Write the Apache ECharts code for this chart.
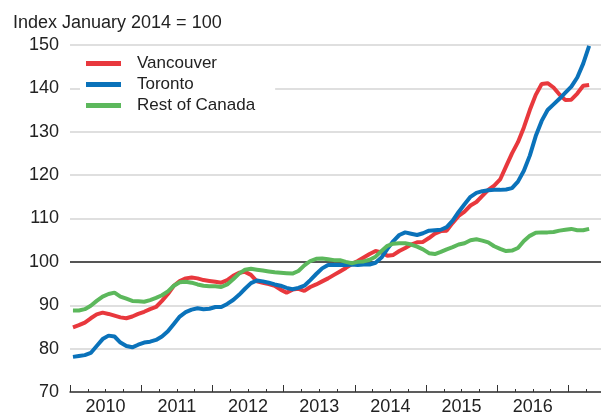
<!DOCTYPE html>
<html>
<head>
<meta charset="utf-8">
<script src="https://cdn.jsdelivr.net/npm/echarts@6/dist/echarts.min.js"></script>
<style>
  html, body { margin: 0; padding: 0; background: #fff; }
  #chart { width: 601px; height: 413px; }
</style>
</head>
<body>
<div id="chart"></div>
<script>
// 月度数据：2010年1月 - 2017年4月
const years = ['2010', '2011', '2012', '2013', '2014', '2015', '2016'];
const seriesNames = ['Vancouver', 'Toronto', 'Rest of Canada'];

const vancouver = [
    84.9, 85.4, 86.0, 87.0, 87.9, 88.3, 88.0, 87.6, 87.2, 87.0, 87.4, 88.0,
    88.5, 89.1, 89.6, 91.0, 92.6, 94.5, 95.6, 96.2, 96.4, 96.2, 95.8, 95.6,
    95.4, 95.2, 95.8, 96.8, 97.5, 97.7, 97.0, 95.5, 95.2, 94.9, 94.5, 93.6,
    92.9, 93.6, 93.8, 93.3, 94.2, 94.8, 95.5, 96.2, 97.0, 97.8, 98.6, 99.5,
    100.2, 101.0, 101.8, 102.5, 102.2, 101.4, 101.6, 102.5, 103.2, 104.0, 104.5, 104.6,
    105.5, 106.5, 107.1, 107.2, 109.0, 110.6, 111.6, 113.0, 113.8, 115.2, 116.6, 117.6,
    119.0, 122.0, 125.0, 127.6, 131.0, 135.0, 138.5, 141.0, 141.2, 140.2, 138.6, 137.3,
    137.4, 138.8, 140.6, 140.8
];

const toronto = [
    78.1, 78.3, 78.5, 79.0, 80.6, 82.2, 83.0, 82.8, 81.4, 80.6, 80.3, 80.9,
    81.4, 81.6, 82.0, 82.8, 84.0, 85.7, 87.4, 88.4, 89.0, 89.3, 89.1, 89.2,
    89.6, 89.6, 90.3, 91.2, 92.4, 93.8, 95.1, 95.7, 95.5, 95.2, 94.8, 94.5,
    94.0, 93.7, 94.0, 94.5, 95.8, 97.2, 98.5, 99.3, 99.3, 99.3, 99.3, 99.4,
    99.3, 99.4, 99.4, 99.8, 101.0, 103.0, 104.8, 106.2, 106.8, 106.5, 106.2, 106.6,
    107.2, 107.3, 107.4, 108.0, 109.5, 111.5, 113.3, 115.0, 115.9, 116.3, 116.5, 116.6,
    116.6, 116.7, 117.0, 118.5, 121.0, 124.5, 129.0, 132.5, 135.0, 136.3, 137.6, 139.0,
    140.4, 142.5, 145.7, 149.8
];

const restOfCanada = [
    88.8, 88.8, 89.1, 89.9, 91.0, 92.0, 92.6, 92.9, 92.0, 91.5, 91.0, 90.9,
    90.8, 91.2, 91.7, 92.3, 93.2, 94.5, 95.3, 95.4, 95.2, 94.8, 94.5, 94.4,
    94.4, 94.2, 94.8, 96.0, 97.3, 98.2, 98.4, 98.2, 98.0, 97.8, 97.6, 97.5,
    97.4, 97.3, 97.9, 99.2, 100.2, 100.7, 100.8, 100.6, 100.4, 100.4, 100.0, 99.7,
    100.0, 100.1, 100.5, 101.2, 102.5, 103.7, 104.2, 104.3, 104.3, 104.0, 103.5, 102.9,
    102.0, 101.8, 102.3, 102.9, 103.4, 104.0, 104.3, 105.0, 105.2, 104.9, 104.5, 103.6,
    103.0, 102.5, 102.6, 103.2, 104.8, 106.0, 106.7, 106.8, 106.8, 106.9, 107.2, 107.4,
    107.6, 107.3, 107.3, 107.6
];

const colors = ['#e8383d', '#0a72ba', '#5cb85c'];
const fontFamily = '"Liberation Sans", Arial, sans-serif';

// 月份放在月中
function toPoints(values) {
    return values.map((v, i) => [i + 0.5, v]);
}

const yearTicks = years.map((y, i) => i * 12).concat([84]);
const yearLabelPos = years.map((y, i) => i * 12 + 6);
const quarterTicks = [];
for (let m = 3; m < 89; m += 3) {
    if (m % 12 !== 0) quarterTicks.push(m);
}

const chart = echarts.init(document.getElementById('chart'));

const lineSeries = [vancouver, toronto, restOfCanada].map((values, k) => ({
    name: seriesNames[k],
    type: 'line',
    data: toPoints(values),
    showSymbol: false,
    smooth: false,
    lineStyle: { color: colors[k], width: 4 },
    itemStyle: { color: colors[k] },
    z: 3 + k
}));

// 100 基准线
lineSeries[0].markLine = {
    silent: true,
    symbol: 'none',
    label: { show: false },
    lineStyle: { color: '#555', width: 2, type: 'solid' },
    data: [{ yAxis: 100 }],
    z: 2
};

const option = {
    animation: false,
    backgroundColor: '#fff',
    title: {
        text: 'Index January 2014 = 100',
        left: 8,
        top: 9,
        textStyle: { fontSize: 18, fontWeight: 'normal', color: '#222', fontFamily: fontFamily }
    },
    legend: {
        orient: 'vertical',
        left: 80,
        top: 51,
        itemWidth: 35,
        itemHeight: 5,
        itemGap: 4,
        icon: 'rect',
        backgroundColor: '#fff',
        padding: [4, 20, 4, 6],
        textStyle: { fontSize: 17, color: '#222', fontFamily: fontFamily, padding: [0, 0, 0, 11] },
        data: seriesNames
    },
    grid: { left: 70, right: 0, top: 45, bottom: 21, outerBoundsMode: 'none' },
    xAxis: [
        {
            type: 'value',
            min: 0,
            max: 89.5,
            interval: 12,
            splitLine: { show: false },
            axisLine: { show: true, lineStyle: { color: '#333', width: 1.5 } },
            axisTick: { show: true, inside: true, length: 7, customValues: yearTicks, lineStyle: { color: '#333' } },
            axisLabel: {
                customValues: yearLabelPos,
                formatter: v => years[Math.round((v - 6) / 12)],
                fontSize: 18,
                color: '#222',
                margin: 6,
                fontFamily: fontFamily
            }
        },
        {
            type: 'value',
            position: 'bottom',
            min: 0,
            max: 89.5,
            interval: 12,
            splitLine: { show: false },
            axisLine: { show: false },
            axisTick: { show: true, inside: true, length: 3, customValues: quarterTicks, lineStyle: { color: '#333' } },
            axisLabel: { show: false }
        }
    ],
    yAxis: {
        type: 'value',
        min: 70,
        max: 150,
        interval: 10,
        axisLine: { show: false },
        axisTick: { show: false },
        axisLabel: { fontSize: 18, color: '#222', margin: 11, fontFamily: fontFamily },
        splitLine: { lineStyle: { color: '#d4d4d4', width: 1.5 } }
    },
    series: lineSeries
};

chart.setOption(option);

window.addEventListener('resize', () => {
    chart.resize();
});
</script>
</body>
</html>
